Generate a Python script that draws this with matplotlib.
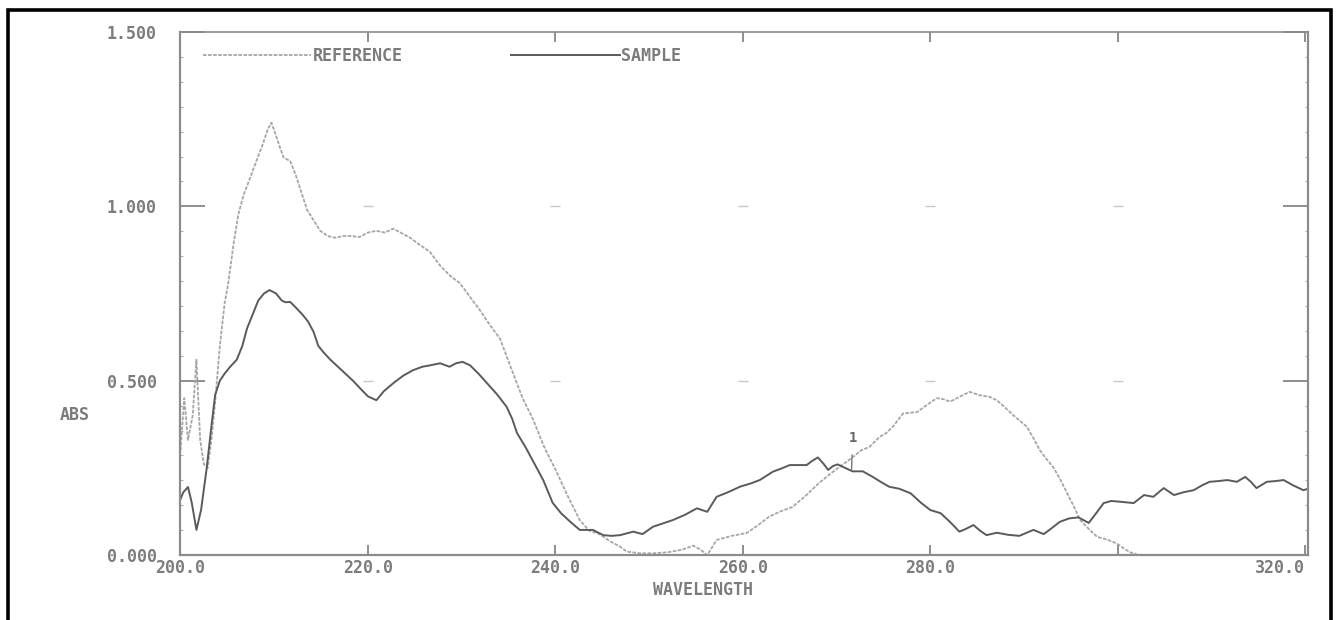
import matplotlib
matplotlib.use("Agg")
import matplotlib.pyplot as plt
from matplotlib.patches import Rectangle
from matplotlib.ticker import MultipleLocator, FixedLocator

plt.rcParams["font.family"] = ["DejaVu Sans Mono"]
plt.rcParams["font.weight"] = "bold"

# ---------------------------------------------------------------------------
# values (wavelength nm, absorbance)
ref_wl = [200.0, 200.4, 200.8, 201.3, 201.7, 202.1, 202.5, 202.9, 203.3, 203.7,
          204.2, 204.7, 205.1, 205.7, 206.2, 206.7, 207.4, 208.1, 208.8, 209.3,
          209.7, 210.1, 210.6, 211.0, 211.7, 212.3, 212.9, 213.5, 214.2, 214.9,
          215.7, 216.5, 217.4, 218.2, 219.1, 220.0, 220.9, 221.8, 222.7, 223.4,
          224.5, 225.5, 226.6, 227.7, 228.8, 229.8, 230.9, 232.0, 233.0, 234.1,
          234.8, 235.5, 236.5, 237.6, 238.8, 240.1, 241.3, 242.6, 243.6, 244.7,
          245.8, 246.9, 247.6, 249.0, 250.5, 252.0, 253.5, 254.7, 255.5, 256.2,
          257.2, 258.8, 260.4, 261.6, 262.8, 264.0, 265.3, 266.7, 268.1, 269.2,
          270.3, 271.7, 272.6, 273.5, 274.6, 275.3, 276.0, 277.1, 278.6, 279.6,
          280.7, 281.4, 282.1, 283.2, 284.2, 285.3, 286.3, 287.1, 288.1, 288.9,
          290.3, 291.0, 291.7, 292.4, 293.1, 293.9, 294.6, 295.3, 296.0, 296.9,
          297.8, 298.8, 299.9, 300.6, 301.3, 302.0]
ref_abs = [0.30, 0.45, 0.33, 0.40, 0.56, 0.33, 0.26, 0.25, 0.33, 0.44,
           0.60, 0.72, 0.78, 0.90, 0.98, 1.03, 1.08, 1.13, 1.18, 1.22,
           1.24, 1.21, 1.17, 1.14, 1.13, 1.09, 1.04, 0.99, 0.96, 0.93,
           0.915, 0.91, 0.915, 0.915, 0.912, 0.925, 0.93, 0.925, 0.936, 0.926,
           0.91, 0.89, 0.87, 0.83, 0.80, 0.78, 0.74, 0.70, 0.66, 0.62,
           0.57, 0.52, 0.45, 0.39, 0.31, 0.24, 0.17, 0.10, 0.07, 0.06,
           0.04, 0.024, 0.01, 0.005, 0.005, 0.008, 0.015, 0.027, 0.015, 0.0,
           0.043, 0.055, 0.063, 0.085, 0.11, 0.125, 0.138, 0.17, 0.206, 0.23,
           0.253, 0.28, 0.30, 0.31, 0.339, 0.35, 0.368, 0.406, 0.41, 0.43,
           0.45, 0.447, 0.44, 0.455, 0.468, 0.458, 0.454, 0.444, 0.42, 0.40,
           0.368, 0.335, 0.30, 0.275, 0.253, 0.215, 0.177, 0.14, 0.10, 0.075,
           0.052, 0.045, 0.033, 0.02, 0.008, 0.003]

smp_wl = [200.0, 200.3, 200.8, 201.2, 201.7, 202.2, 202.8, 203.3, 203.7, 204.2,
          204.7, 205.3, 206.0, 206.6, 207.1, 207.7, 208.3, 208.9, 209.5, 210.2,
          210.8, 211.2, 211.7, 212.3, 213.0, 213.6, 214.2, 214.7, 215.3, 216.0,
          216.8, 217.6, 218.4, 219.1, 220.0, 220.9, 221.7, 222.8, 223.8, 224.8,
          225.8, 226.8, 227.7, 228.7, 229.4, 230.1, 230.9, 231.8, 232.8, 233.8,
          234.8, 235.4, 235.9, 236.8, 237.8, 238.7, 239.7, 240.6, 241.6, 242.6,
          244.0, 245.1, 246.0, 246.9, 248.3, 249.3, 250.4, 251.4, 252.5, 253.8,
          255.1, 256.2, 257.2, 258.4, 259.7, 260.8, 261.8, 263.2, 264.1, 265.0,
          266.8, 267.4, 268.0, 268.6, 269.1, 269.6, 270.1, 270.9, 271.7, 272.8,
          273.8, 274.7, 275.6, 276.7, 277.9, 279.0, 280.0, 281.1, 282.1, 283.1,
          283.8, 284.6, 285.3, 286.0, 287.1, 288.3, 289.5, 291.0, 292.1, 293.0,
          293.8, 294.8, 295.8, 296.9, 297.7, 298.5, 299.3, 300.2, 301.7, 302.8,
          303.8, 304.9, 306.0, 307.0, 308.1, 309.0, 309.8, 310.7, 311.7, 312.7,
          313.6, 314.2, 314.8, 315.9, 316.8, 317.7, 318.7, 319.8, 320.3]
smp_abs = [0.16, 0.18, 0.195, 0.15, 0.072, 0.13, 0.25, 0.37, 0.46, 0.50,
           0.52, 0.54, 0.56, 0.60, 0.65, 0.69, 0.73, 0.75, 0.76, 0.75,
           0.73, 0.725, 0.726, 0.71, 0.69, 0.67, 0.64, 0.60, 0.58, 0.56,
           0.54, 0.52, 0.50, 0.48, 0.455, 0.444, 0.47, 0.495, 0.515, 0.53,
           0.54, 0.545, 0.55, 0.54, 0.55, 0.554, 0.544, 0.52, 0.49, 0.46,
           0.425, 0.39, 0.35, 0.31, 0.26, 0.215, 0.15, 0.12, 0.095, 0.072,
           0.072, 0.057, 0.055, 0.057, 0.067, 0.06, 0.081, 0.09, 0.10, 0.115,
           0.134, 0.124, 0.167, 0.18, 0.196, 0.205, 0.215, 0.239, 0.248, 0.258,
           0.258, 0.27, 0.28, 0.262, 0.244, 0.255, 0.26, 0.25, 0.24, 0.24,
           0.225, 0.21, 0.196, 0.19, 0.177, 0.15, 0.129, 0.12, 0.095, 0.067,
           0.075, 0.086, 0.07, 0.057, 0.064, 0.058, 0.055, 0.072, 0.06, 0.078,
           0.095, 0.105, 0.108, 0.092, 0.12, 0.149, 0.155, 0.153, 0.149, 0.172,
           0.167, 0.192, 0.172, 0.18, 0.186, 0.20, 0.21, 0.212, 0.215, 0.21,
           0.224, 0.21, 0.192, 0.21, 0.212, 0.215, 0.20, 0.186, 0.19]

x_ticks = [200, 220, 240, 260, 280, 300, 320]
x_tick_labels = ["200.0", "220.0", "240.0", "260.0", "280.0", "", "320.0"]
y_ticks = [0.0, 0.5, 1.0, 1.5]
y_tick_labels = ["0.000", "0.500", "1.000", "1.500"]
peak_label = "1"
peak_wl = 271.7
peak_abs = 0.245
# ---------------------------------------------------------------------------

ink = "#7c7c7c"
fig = plt.figure(figsize=(13.38, 6.2), dpi=100)
ax = fig.add_axes([0.1349, 0.1048, 0.8427, 0.8435])

ax.plot(ref_wl, ref_abs, color="#a6a6a6", lw=1.3, ls=(0, (2, 0.8)), label="REFERENCE")
ax.plot(smp_wl, smp_abs, color="#5a5a5a", lw=1.4, label="SAMPLE")

# faint grid marks at the interior intersections
for yv in y_ticks[1:3]:
    ax.plot(x_ticks[1:-1], [yv] * 5, ls="none", marker="_", ms=7, mew=1, color="#c8c8c8")

ax.annotate(peak_label, xy=(peak_wl - 0.1, peak_abs), xytext=(peak_wl, peak_abs + 0.09),
            ha="center", va="center", fontsize=10, color="#666666",
            arrowprops=dict(arrowstyle="-", color="#777777", lw=1.0, shrinkA=5, shrinkB=0))

ax.set_xlim(200, 320.3)
ax.set_ylim(0, 1.5)
ax.xaxis.set_major_locator(FixedLocator(x_ticks))
ax.set_xticklabels(x_tick_labels)
ax.get_xticklabels()[-1].set_ha("right")
ax.set_yticks(y_ticks)
ax.set_yticklabels(y_tick_labels)
ax.yaxis.set_minor_locator(MultipleLocator(0.5 / 7))

ax.tick_params(axis="x", which="major", direction="in", length=7, width=1.2, color=ink,
               top=True, labelsize=12, labelcolor=ink, pad=3)
ax.tick_params(axis="y", which="major", direction="in", length=18, width=1.2, color=ink,
               right=True, labelsize=12, labelcolor=ink, pad=17)
ax.tick_params(axis="y", which="minor", direction="in", length=2.5, width=0.8,
               color="#b0b0b0", right=True)

for side, sp in ax.spines.items():
    sp.set_color("#8c8c8c")
    sp.set_linewidth(1.6 if side in ("left", "right", "bottom") else 1.2)

leg = ax.legend(ncol=2, loc="center left", bbox_to_anchor=(0.02, 0.955), frameon=False,
                borderpad=0, borderaxespad=0, handlelength=6.5, handletextpad=0.1,
                columnspacing=6.5, fontsize=12, labelcolor=ink)

fig.text(703 / 1338, 1 - 590 / 620, "WAVELENGTH", ha="center", va="center",
         fontsize=12, color=ink)
fig.text(60 / 1338, 1 - 415 / 620, "ABS", ha="left", va="center", fontsize=12, color=ink)

# black frame of the scanned page
fig.add_artist(Rectangle((8 / 1338, -0.05), 1323 / 1338, 1.05 - 10 / 620,
                         transform=fig.transFigure, fill=False, ec="black", lw=2.6))

fig.savefig("out.png", dpi=100)
